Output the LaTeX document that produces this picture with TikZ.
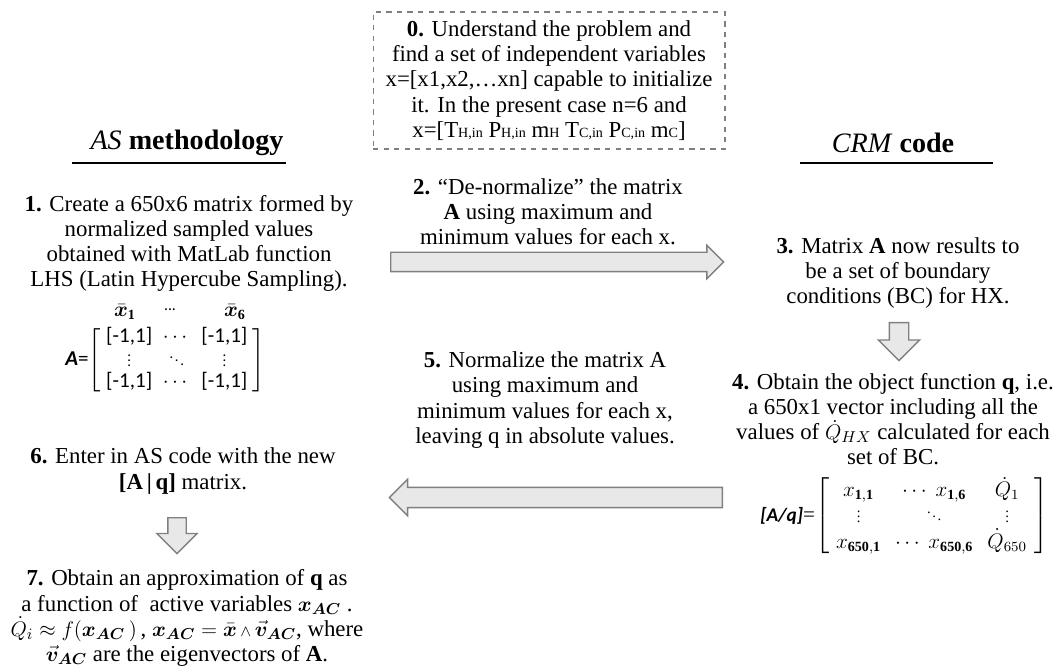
\documentclass[tikz,border=0pt]{standalone}
\usepackage{amsmath}
\usepackage{bm}
\usepackage{graphicx}
\usepackage{fontspec}
\setmainfont{Liberation Serif}
\setsansfont{Carlito}
\usetikzlibrary{shapes.arrows}
\newcommand{\smallvdots}{\scalebox{0.7}{$\vdots$}}
\newcommand{\smallddots}{\scalebox{0.7}{$\ddots$}}

\begin{document}
\begin{tikzpicture}[x=0.02cm, y=-0.02cm,
    txt/.style={align=center, inner sep=0pt, font=\fontsize{13}{14.3}\selectfont},
    hdr/.style={inner sep=0pt, font=\fontsize{16}{18}\selectfont},
    bigarrow/.style={single arrow, draw=gray, fill=gray!18, line width=0.8pt, inner xsep=0pt, minimum width=0pt}]
    \useasboundingbox (0,0) rectangle (1057,671);

    % headings
    \draw (187,143) node[hdr] (hAS) {\textit{AS} \textbf{methodology}};
    \draw (893,143) node[hdr] (hCRM) {\textit{CRM} \textbf{code}};
    \coordinate (uAS1) at (72,163);
    \coordinate (uAS2) at (286,163);
    \coordinate (uCRM1) at (800,163);
    \coordinate (uCRM2) at (993,163);
    \draw[line width=1.4pt] (uAS1) -- (uAS2);
    \draw[line width=1.4pt] (uCRM1) -- (uCRM2);

    % step 0
    \draw (549,80.5) node[txt, draw=gray, dashed, line width=0.6pt, minimum width=7.04cm, minimum height=2.74cm] (s0)
        {\textbf{0.} Understand the problem and\\ find a set of independent variables\\ x=[x1,x2,\ldots xn] capable to initialize\\ it. In the present case n=6 and\\
         x=[T{\footnotesize H,in} P{\footnotesize H,in} m{\footnotesize H} T{\footnotesize C,in} P{\footnotesize C,in} m{\footnotesize C}]};

    % left column
    \draw (189,243.5) node[txt] (s1) {\textbf{1.} Create a 650x6 matrix formed by\\ normalized sampled values\\ obtained with MatLab function\\ LHS (Latin Hypercube Sampling).};
    \draw (125,312) node[inner sep=0pt, font=\large] (h1) {$\bar{\bm{x}}_{\mathbf{1}}$};
    \draw (170,310) node[inner sep=0pt] (hd) {\sffamily\small ...};
    \draw (235,312) node[inner sep=0pt, font=\large] (h6) {$\bar{\bm{x}}_{\mathbf{6}}$};
    \draw (65,360) node[anchor=west, inner sep=0pt, font=\sffamily\fontsize{12}{13}\selectfont] (mA)
        {\textbf{\textit{A}}=\renewcommand\arraystretch{0.8}\setlength\arraycolsep{3pt}$\left[\begin{array}{ccc} \text{[-1,1]} & \cdots & \text{[-1,1]}\\ \smallvdots & \smallddots & \smallvdots\\ \text{[-1,1]} & \cdots & \text{[-1,1]} \end{array}\right]$};
    \draw (183,471) node[txt] (s6) {\textbf{6.} Enter in AS code with the new\\ \textbf{[A\,\textbar\,q]} matrix.};
    \draw (187,618) node[txt] (s7) {\textbf{7.} Obtain an approximation of \textbf{q} as\\ a function of\ \ active variables $\bm{x}_{\bm{AC}}$\ .\\
        $\dot{Q}_i\approx f(\bm{x}_{\bm{AC}}\,)$\,,\ $\bm{x}_{\bm{AC}}=\bar{\bm{x}}\,{\scriptstyle\wedge}\,\vec{\bm{v}}_{\bm{AC}}$, where\\ $\vec{\bm{v}}_{\bm{AC}}$ are the eigenvectors of \textbf{A}.};

    % middle
    \draw (548,212) node[txt] (s2) {\textbf{2.} ``De-normalize'' the matrix\\ \textbf{A} using maximum and\\ minimum values for each x.};
    \draw (545,400) node[txt] (s5) {\textbf{5.} Normalize the matrix A\\ using maximum and\\ minimum values for each x,\\ leaving q in absolute values.};

    % right column
    \draw (898,273) node[txt] (s3) {\textbf{3.} Matrix \textbf{A} now results to\\ be a set of boundary\\ conditions (BC) for HX.};
    \draw (893,419) node[txt] (s4) {\textbf{4.} Obtain the object function \textbf{q}, i.e.\\ a 650x1 vector including all the\\ values of $\dot{Q}_{HX}$ calculated for each\\ set of BC.};
    \draw (760,516) node[anchor=west, inner sep=0pt, font=\fontsize{12}{14}\selectfont] (mAq)
        {\textsf{\fontsize{11}{13}\selectfont\bfseries\itshape [A/q]}=\renewcommand\arraystretch{0.9}\setlength\arraycolsep{4pt}$\left[\begin{array}{ccc} x_{\mathbf{1,1}} & \cdots\ x_{\mathbf{1,6}} & \dot{Q}_1\\ \smallvdots & \smallddots & \smallvdots\\ x_{\mathbf{650,1}} & \cdots\ x_{\mathbf{650,6}} & \dot{Q}_{650} \end{array}\right]$};

    % block arrows
    \draw (390,262) node[bigarrow, anchor=tail, inner ysep=0.18cm, single arrow head extend=0.14cm, minimum height=6.66cm] (a2) {};
    \draw (899,322) node[bigarrow, rotate=-90, anchor=tail, inner ysep=0.18cm, single arrow head extend=0.22cm, minimum height=0.76cm] (a3) {};
    \draw (723,497.5) node[bigarrow, rotate=180, anchor=tail, inner ysep=0.19cm, single arrow head extend=0.16cm, minimum height=6.66cm] (a5) {};
    \draw (177,517) node[bigarrow, rotate=-90, anchor=tail, inner ysep=0.17cm, single arrow head extend=0.22cm, minimum height=0.72cm] (a6) {};
\end{tikzpicture}
\end{document}
